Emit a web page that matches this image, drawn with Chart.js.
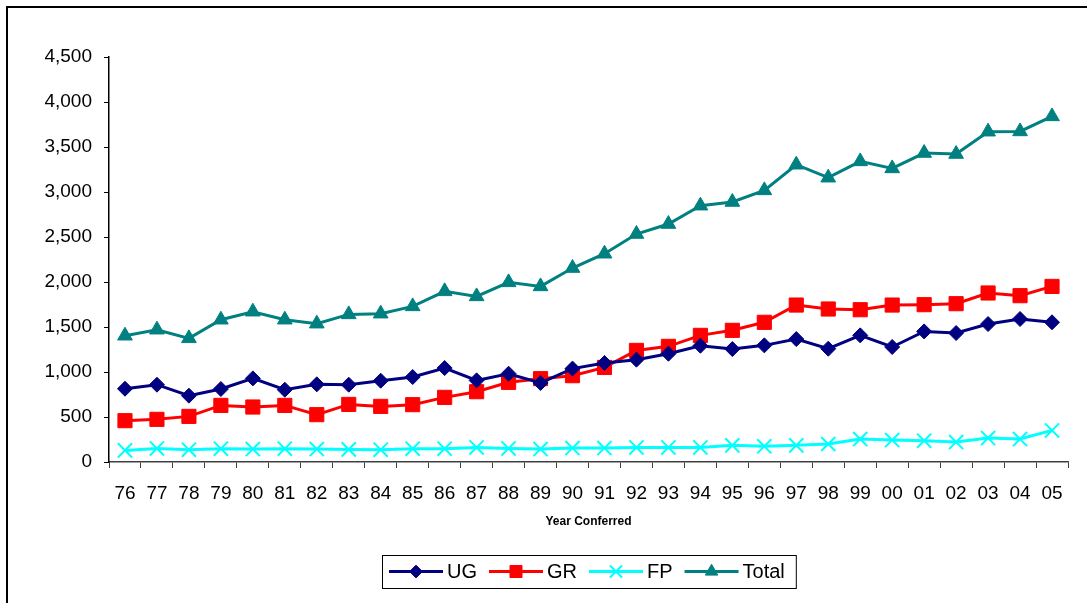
<!DOCTYPE html>
<html>
<head>
<meta charset="utf-8">
<style>
  html, body { margin: 0; padding: 0; background: #ffffff; }
  #wrap { width: 1087px; height: 603px; position: relative; }
  canvas { display: block; }
</style>
<script src="https://cdn.jsdelivr.net/npm/chart.js@4.4.1/dist/chart.umd.min.js"></script>
</head>
<body>
<div id="wrap"><canvas id="c" width="1087" height="603"></canvas></div>
<script>
// ---- Data ----
const years = ["76","77","78","79","80","81","82","83","84","85","86","87","88","89","90",
               "91","92","93","94","95","96","97","98","99","00","01","02","03","04","05"];
const ugValues = [814, 859, 737, 811, 929, 803, 863, 859, 903, 944, 1044, 907, 981, 878, 1038,
                  1100, 1137, 1203, 1292, 1255, 1296, 1366, 1259, 1407, 1278, 1451, 1433, 1533, 1589, 1552];
const grValues = [459, 474, 507, 629, 611, 629, 526, 640, 618, 637, 718, 781, 885, 926, 959,
                  1051, 1240, 1285, 1407, 1463, 1552, 1744, 1700, 1692, 1744, 1748, 1759, 1878, 1848, 1951];
const fpValues = [129, 151, 137, 148, 144, 148, 144, 140, 137, 148, 148, 162, 151, 144, 155,
                  155, 162, 162, 162, 185, 174, 185, 200, 255, 244, 237, 222, 266, 255, 351];
const totalValues = [1403, 1470, 1374, 1581, 1670, 1581, 1537, 1640, 1648, 1729, 1896, 1840, 1996, 1951, 2155,
                     2314, 2533, 2644, 2848, 2889, 3018, 3303, 3159, 3340, 3262, 3433, 3422, 3670, 3673, 3840];
const seriesNames = ["UG", "GR", "FP", "Total"];
const xAxisTitle = "Year Conferred";
const yMin = 0, yMax = 4500, yStep = 500;

const FONT = "'Liberation Sans', Arial, Helvetica, sans-serif";

// ---- Custom legend + frame plugin ----
const legendFrame = {
  id: 'legendFrame',
  afterDraw(chart) {
    const ctx = chart.ctx;
    const ca = chart.chartArea;
    ctx.save();
    // outer frame (only left and top edges visible in the reference)
    ctx.strokeStyle = '#000';
    ctx.lineWidth = 2;
    ctx.beginPath();
    ctx.moveTo(7, 603);
    ctx.lineTo(7, 7);
    ctx.lineTo(1087, 7);
    ctx.stroke();

    // legend
    ctx.font = '20px ' + FONT;
    const lineLen = 54, gapTxt = 4, gapItem = 12, padL = 7, padR = 11;
    const items = chart.data.datasets.map(ds => ({ds, w: ctx.measureText(ds.label).width}));
    let total = padL + padR;
    items.forEach((it, i) => { total += lineLen + gapTxt + it.w + (i ? gapItem : 0); });
    const boxL = Math.round((ca.left + ca.right) / 2 - total / 2);
    const boxT = 555, boxH = 33;
    const cy = boxT + boxH / 2;
    ctx.fillStyle = '#fff';
    ctx.fillRect(boxL, boxT, total, boxH);
    ctx.strokeStyle = '#000';
    ctx.lineWidth = 1;
    ctx.strokeRect(boxL + 0.5, boxT + 0.5, total, boxH);
    let x = boxL + padL;
    items.forEach((it, i) => {
      const ds = it.ds;
      if (i) x += gapItem;
      ctx.strokeStyle = ds.borderColor;
      ctx.lineWidth = 3;
      ctx.beginPath();
      ctx.moveTo(x, cy);
      ctx.lineTo(x + lineLen, cy);
      ctx.stroke();
      const opts = {
        pointStyle: ds.pointStyle,
        radius: ds.pointRadius * 0.85,
        borderWidth: ds.pointBorderWidth,
        rotation: 0
      };
      ctx.fillStyle = ds.pointBackgroundColor;
      ctx.strokeStyle = ds.pointBorderColor;
      ctx.lineWidth = ds.pointBorderWidth;
      if (Chart.helpers && Chart.helpers.drawPoint) {
        Chart.helpers.drawPoint(ctx, opts, x + lineLen / 2, cy);
      }
      x += lineLen + gapTxt;
      ctx.fillStyle = '#000';
      ctx.textAlign = 'left';
      ctx.textBaseline = 'middle';
      ctx.fillText(ds.label, x, cy + 1);
      x += it.w;
    });
    ctx.restore();
  }
};

function mkSeries(label, data, color, style, radius, pbw) {
  return {
    label, data,
    borderColor: color,
    backgroundColor: color,
    borderWidth: 3,
    pointStyle: style,
    pointRadius: radius,
    pointHoverRadius: radius,
    pointBackgroundColor: color,
    pointBorderColor: color,
    pointBorderWidth: pbw,
    tension: 0,
    fill: false
  };
}

const datasets = [
  mkSeries(seriesNames[0], ugValues, '#000080', 'rectRot', 7.5, 1),
  mkSeries(seriesNames[1], grValues, '#FF0000', 'rect', 10, 1),
  mkSeries(seriesNames[2], fpValues, '#00FFFF', 'crossRot', 10, 2),
  mkSeries(seriesNames[3], totalValues, '#008080', 'triangle', 8.5, 1)
];

new Chart(document.getElementById('c'), {
  type: 'line',
  data: { labels: years, datasets },
  plugins: [legendFrame],
  options: {
    responsive: false,
    animation: false,
    devicePixelRatio: 1,
    layout: { padding: { left: 0, top: 57, right: 19, bottom: 70 } },
    plugins: {
      legend: { display: false },
      tooltip: { enabled: false },
      title: { display: false }
    },
    scales: {
      x: {
        type: 'category',
        offset: true,
        grid: {
          offset: true,
          drawOnChartArea: false,
          drawTicks: true,
          tickLength: 6,
          color: '#404040',
          lineWidth: 1
        },
        border: { display: true, color: '#404040', width: 1.5 },
        ticks: {
          color: '#000',
          font: { family: FONT, size: 19 },
          padding: 14,
          maxRotation: 0,
          autoSkip: false
        },
        title: {
          display: true,
          text: xAxisTitle,
          color: '#000',
          font: { family: FONT, size: 12, weight: 'bold' },
          padding: { top: 4, bottom: 4 }
        },
        afterFit(scale) { scale.height = 71; }
      },
      y: {
        min: yMin,
        max: yMax,
        grid: {
          drawOnChartArea: false,
          drawTicks: true,
          tickLength: 5,
          color: '#000',
          lineWidth: 1
        },
        border: { display: true, color: '#000', width: 1.5 },
        ticks: {
          stepSize: yStep,
          color: '#000',
          font: { family: FONT, size: 19 },
          padding: 12,
          callback: v => Number(v).toLocaleString('en-US')
        },
        afterFit(scale) { scale.width = 109; }
      }
    }
  }
});
</script>
</body>
</html>
